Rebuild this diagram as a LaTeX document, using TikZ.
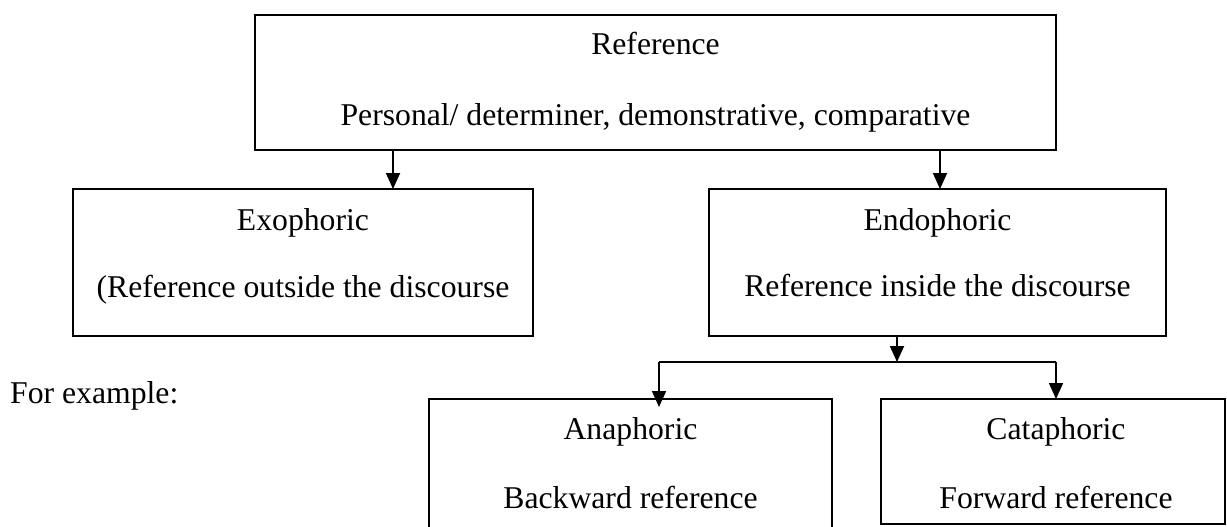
\documentclass[tikz,border=0pt]{standalone}
\usepackage{fontspec}
\setmainfont{Liberation Serif}
\usetikzlibrary{arrows.meta}
\begin{document}
\begin{tikzpicture}[x=1pt,y=-1pt,
  box/.style={draw=black,line width=1.8pt,rectangle,inner sep=0pt,outer sep=0pt},
  lbl/.style={anchor=base,inner sep=0pt,font=\fontsize{31.7}{38}\selectfont},
  arr/.style={line width=1.8pt,-{Triangle[length=16pt,width=14pt]}},
  conn/.style={line width=1.8pt}]
\useasboundingbox (0,0) rectangle (1227,527);
\clip (0,0) rectangle (1227,527);
% boxes
\node[box,minimum width=801pt,minimum height=135pt] (ref) at (655.5,82.5) {};
\node[box,minimum width=460pt,minimum height=147pt] (exo) at (303,262.5) {};
\node[box,minimum width=457pt,minimum height=147pt] (endo) at (937.5,262.5) {};
\node[box,minimum width=403pt,minimum height=136pt] (ana) at (630.5,467) {};
\node[box,minimum width=344pt,minimum height=125pt] (cata) at (1053,461.5) {};
% texts
\node[lbl] (reft1) at (655.5,55) {Reference};
\node[lbl] (reft2) at (655.5,125) {Personal/ determiner, demonstrative, comparative};
\node[lbl] (exot1) at (303,230) {Exophoric};
\node[lbl] (exot2) at (303,297) {(Reference outside the discourse};
\node[lbl] (endot1) at (937.5,230) {Endophoric};
\node[lbl] (endot2) at (937.5,296) {Reference inside the discourse};
\node[lbl] (anat1) at (630.5,439) {Anaphoric};
\node[lbl] (anat2) at (630.5,508) {Backward reference};
\node[lbl] (catat1) at (1056,439) {Cataphoric};
\node[lbl] (catat2) at (1056,508) {Forward reference};
\node[lbl,anchor=base west] (forex) at (10,403) {For example:};
% connector coordinates
\coordinate (xl) at (393,0);
\coordinate (xr) at (940,0);
\coordinate (split) at (897,362);
\coordinate (lb) at (659,362);
\coordinate (rb) at (1056,362);
\coordinate (lbt) at (659,407);
% connectors
\draw[arr] (ref.south -| xl) -- (exo.north -| xl);
\draw[arr] (ref.south -| xr) -- (endo.north -| xr);
\draw[arr] (endo.south -| split) -- (split);
\draw[conn] (lb) -- (rb);
\draw[arr] (lb) -- (lbt);
\draw[arr] (rb) -- (cata.north -| rb);
\end{tikzpicture}
\end{document}
